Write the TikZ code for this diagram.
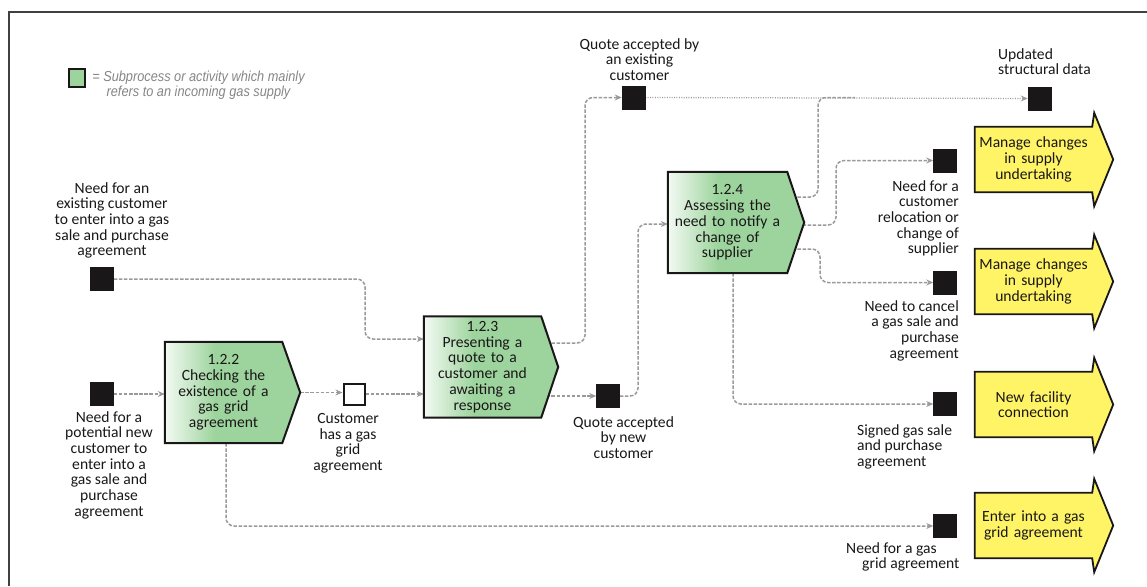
\documentclass[tikz,border=0pt]{standalone}
\usepackage{fontspec}
\setmainfont{Carlito}
\newfontfamily\legfont[FakeStretch=0.88]{Liberation Sans}
\usetikzlibrary{arrows.meta,calc}
\pgfdeclarelayer{bg}
\pgfdeclarelayer{shp}
\pgfsetlayers{bg,shp,main}
\definecolor{gfill}{HTML}{9DD49D}
\definecolor{yfill}{HTML}{FFF466}
\definecolor{ink}{HTML}{1A1718}
\definecolor{conngray}{HTML}{9A9A9A}
\definecolor{leggray}{HTML}{858585}
\definecolor{framecol}{HTML}{404040}

\newcommand\procshape[1]{%
  \foreach \s/\o in {2/0.07,4/0.06,7/0.05,10/0.04}{%
    \fill[black,opacity=\o,shift={(\s*0.5,\s)}] (#1.north west) -- (#1.north east) -- (#1tip) -- (#1.south east) -- (#1.south west) -- cycle;}
  \begin{scope}
    \clip (#1.north west) -- (#1.north east) -- (#1tip) -- (#1.south east) -- (#1.south west) -- cycle;
    \fill[gfill] (#1.north west) rectangle (#1tip |- #1.south);
    \shade[left color=gfill!12, right color=gfill] (#1.north west) rectangle ($(#1.south west)+(50,0)$);
  \end{scope}
  \draw[ink, line width=2pt, line join=miter] (#1.north west) -- (#1.north east) -- (#1tip) -- (#1.south east) -- (#1.south west) -- cycle;
}
\newcommand\yshape[1]{%
  \draw[ink, fill=yfill, line width=1.8pt, line join=miter] (#1.north west) -- (#1.north east) -- ($(#1.north east)+(2,-14)$) -- ($(#1.east)+(21,0)$) -- ($(#1.south east)+(2,14)$) -- (#1.south east) -- (#1.south west) -- cycle;
}

\begin{document}
\begin{tikzpicture}[x=1pt,y=-1pt,
  every node/.style={font=\fontsize{15.6}{15.7}\selectfont, text=ink},
  evt/.style={draw=ink, fill=ink, minimum size=23pt, inner sep=0pt, line width=0.5pt},
  wevt/.style={draw=ink, fill=white, line width=2pt, minimum size=21pt, inner sep=0pt},
  lbl/.style={align=center, inner sep=0pt},
  proc/.style={inner sep=0pt, minimum height=101pt, align=center},
  yel/.style={inner sep=0pt, minimum height=65pt, text width=117pt, align=center},
  conn/.style={draw=conngray, line width=1.5pt, dash pattern=on 3.5pt off 1.6pt, rounded corners=8pt, -{Stealth[length=7pt,width=6pt]}},
  dotconn/.style={draw=conngray, line width=1.3pt, dash pattern=on 1pt off 1.4pt, -{Stealth[length=7pt,width=6pt]}},
]
\useasboundingbox (0,0) rectangle (1147,586);
\draw[framecol, line width=1.3pt] (9,586) -- (9,12) -- (1147,12);

% legend
\node[draw=ink, fill=gfill, line width=2pt, minimum width=16pt, minimum height=18pt, inner sep=0pt] (leg) at (76.5,78) {};
\node[lbl, anchor=north, text=leggray, font=\legfont\itshape\fontsize{14.5}{15}\selectfont] (legt) at (198.5,71) {= Subprocess or activity which mainly\\refers to an incoming gas supply};

% events and labels
\node[evt] (e1) at (102,279) {};
\node[lbl, anchor=north] (e1l) at (112,182) {Need for an\\existing customer\\to enter into a gas\\sale and purchase\\agreement};
\node[evt] (e2) at (102,394) {};
\node[lbl, anchor=north] (e2l) at (109,411) {Need for a\\potential new\\customer to\\enter into a\\gas sale and\\purchase\\agreement};
\node[wevt] (w) at (354,394) {};
\node[lbl, anchor=north] (wl) at (348,413) {Customer\\has a gas\\grid\\agreement};
\node[evt] (qn) at (608,396) {};
\node[lbl, anchor=north] (qnl) at (623.5,416) {Quote accepted\\by new\\customer};
\node[evt] (qe) at (633.5,97.5) {};
\node[lbl, anchor=north] (qel) at (639.5,38) {Quote accepted by\\an existing\\customer};
\node[evt] (up) at (1039.5,98.5) {};
\node[lbl, align=left, anchor=north west] (upl) at (998,48) {Updated\\structural data};
\node[evt] (rel) at (945,160.5) {};
\node[lbl, align=right, anchor=north east] (rell) at (959,180) {Need for a\\customer\\relocation or\\change of\\supplier};
\node[evt] (can) at (945,282.5) {};
\node[lbl, align=right, anchor=north east] (canl) at (959,300) {Need to cancel\\a gas sale and\\purchase\\agreement};
\node[evt] (sig) at (945,404) {};
\node[lbl, align=left, anchor=north west] (sigl) at (857,424) {Signed gas sale\\and purchase\\agreement};
\node[evt] (grd) at (945,526) {};
\node[lbl, align=left, anchor=north west] (grdl) at (846,542) {Need for a gas\\\hspace*{16pt}grid agreement};

% processes
\node[proc, text width=117pt] (p122) at (223.5,392.5) {1.2.2\\Checking the\\existence of a\\gas grid\\agreement};
\coordinate (p122tip) at ($(p122.east)+(18,0)$);
\node[proc, text width=117pt] (p123) at (482.5,367) {1.2.3\\Presenting a\\quote to a\\customer and\\awaiting a\\response};
\coordinate (p123tip) at ($(p123.east)+(17,0)$);
\node[proc, text width=119pt] (p124) at (727.5,222.5) {1.2.4\\Assessing the\\need to notify a\\change of\\supplier};
\coordinate (p124tip) at ($(p124.east)+(17,0)$);

% target arrows
\node[yel] (a1) at (1033.5,159.5) {Manage changes\\in supply\\undertaking};
\node[yel] (a2) at (1033.5,281.5) {Manage changes\\in supply\\undertaking};
\node[yel] (a3) at (1033.5,404.5) {New facility\\connection};
\node[yel] (a4) at (1033.5,525.5) {Enter into a gas\\grid agreement};

\begin{pgfonlayer}{shp}
  \procshape{p122}
  \procshape{p123}
  \procshape{p124}
  \yshape{a1}
  \yshape{a2}
  \yshape{a3}
  \yshape{a4}
\end{pgfonlayer}

% bend points
\coordinate (j4) at (365,339);
\coordinate (j5a) at (585,343);
\coordinate (j5) at (585,97.5);
\coordinate (j7) at (638,224);
\coordinate (j9a) at (800,197);
\coordinate (j9) at (818,97.5);
\coordinate (j9e) at (855,97.5);
\coordinate (j10a) at (800,225);
\coordinate (j10) at (836,160.5);
\coordinate (j11a) at (800,249);
\coordinate (j11) at (820,282.5);
\coordinate (j12) at (733,404);
\coordinate (j13) at (226,526);

\begin{pgfonlayer}{bg}
  \draw[conn] (e2.east) -- (p122.west |- e2);
  \draw[conn] (p122tip) -- (p122tip -| w.west);
  \draw[conn] (w.east) -- (p123.west |- w);
  \draw[conn] (e1.east) -| (j4) -- (p123.west |- j4);
  \draw[conn] (p123.east |- j5a) -| (j5) -- (qe.west);
  \draw[conn] (p123.east |- qn) -- (qn.west);
  \draw[conn] (qn.east) -| (j7) -- (p124.west |- j7);
  \draw[dotconn] (qe.east) -- (up.west);
  \draw[conn, -] (p124.east |- j9a) -| (j9) -- (j9e);
  \draw[conn] (p124.east |- j10a) -| (j10) -- (rel.west);
  \draw[conn] (p124.east |- j11a) -| (j11) -- (can.west);
  \draw[conn] (j12 |- p124.south) |- (sig.west);
  \draw[conn] (j13 |- p122.south) |- (grd.west);
\end{pgfonlayer}
\end{tikzpicture}
\end{document}
